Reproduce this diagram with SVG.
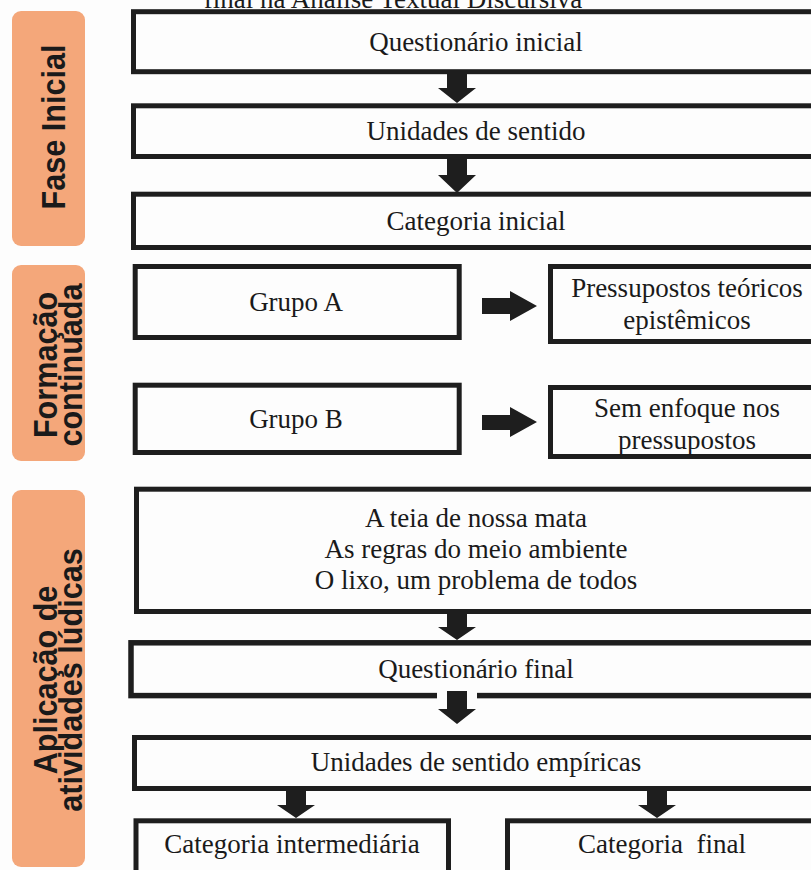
<svg xmlns="http://www.w3.org/2000/svg" width="811" height="870" viewBox="0 0 811 870">
<style>
.bg{fill:#fdfdfd}
.box{fill:#fdfdfd;stroke:#1e1e1e;stroke-width:5}
.lab{fill:#f4a77a}
.t{font-family:"Liberation Serif","Times New Roman",serif;font-size:27px;fill:#1a1a1a;text-anchor:middle}
.s{font-family:"Liberation Sans",Arial,sans-serif;font-weight:bold;font-size:34px;fill:#1a1a1a;text-anchor:middle}
.arr{fill:#1e1e1e}
</style>
<rect class="bg" x="0" y="0" width="811" height="870"/>
<text class="t" x="393" y="8">final na Análise Textual Discursiva</text>

<g id="lab-fase">
<rect class="lab" x="12" y="11" width="73" height="235" rx="9"/>
<text class="s" transform="translate(64.5,127) rotate(-90) scale(0.9,1)">Fase Inicial</text>
</g>
<g id="lab-formacao">
<rect class="lab" x="12" y="265" width="73" height="196" rx="9"/>
<text class="s" transform="translate(57,365) rotate(-90) scale(0.9,1)">Formação</text>
<text class="s" transform="translate(82,365) rotate(-90) scale(0.9,1)">continuada</text>
</g>
<g id="lab-aplicacao">
<rect class="lab" x="12" y="490" width="73" height="377" rx="9"/>
<text class="s" transform="translate(57,680) rotate(-90) scale(0.9,1)">Aplicação de</text>
<text class="s" transform="translate(82,680) rotate(-90) scale(0.9,1)">atividades lúdicas</text>
</g>

<g id="questionario-inicial">
<rect class="box" x="133.5" y="11.7" width="700" height="60"/>
<text class="t" x="476" y="51">Questionário inicial</text>
</g>
<g id="unidades-sentido">
<rect class="box" x="133.5" y="105.8" width="700" height="50.7"/>
<text class="t" x="476" y="139.5">Unidades de sentido</text>
</g>
<g id="categoria-inicial">
<rect class="box" x="133.5" y="194.2" width="700" height="53.3"/>
<text class="t" x="476" y="230">Categoria inicial</text>
</g>
<g id="grupo-a">
<rect class="box" x="135.2" y="266.5" width="324" height="71"/>
<text class="t" x="296" y="311">Grupo A</text>
</g>
<g id="grupo-b">
<rect class="box" x="135.2" y="385.2" width="324" height="67.3"/>
<text class="t" x="296" y="428">Grupo B</text>
</g>
<g id="pressupostos">
<rect class="box" x="550.5" y="266.5" width="300" height="75"/>
<text class="t" x="687" y="297">Pressupostos teóricos</text>
<text class="t" x="687" y="329">epistêmicos</text>
</g>
<g id="sem-enfoque">
<rect class="box" x="550.5" y="387.5" width="300" height="69"/>
<text class="t" x="687" y="417">Sem enfoque nos</text>
<text class="t" x="687" y="449">pressupostos</text>
</g>
<g id="atividades">
<rect class="box" x="136.5" y="489.2" width="700" height="122.3"/>
<text class="t" x="476" y="527">A teia de nossa mata</text>
<text class="t" x="476" y="558">As regras do meio ambiente</text>
<text class="t" x="476" y="589">O lixo, um problema de todos</text>
</g>
<g id="questionario-final">
<rect class="box" x="131" y="642.8" width="700" height="52.8" style="stroke-width:5.5"/>
<text class="t" x="476" y="677.5">Questionário final</text>
</g>
<g id="unidades-empiricas">
<rect class="box" x="134.5" y="737.5" width="700" height="51"/>
<text class="t" x="476" y="771">Unidades de sentido empíricas</text>
</g>
<g id="categoria-intermediaria">
<rect class="box" x="136" y="820.8" width="312.5" height="70"/>
<text class="t" x="292" y="853">Categoria intermediária</text>
</g>
<g id="categoria-final">
<rect class="box" x="507.5" y="820.8" width="330" height="70"/>
<text class="t" x="662" y="853" xml:space="preserve">Categoria  final</text>
</g>

<g id="connectors">
<polygon class="arr" points="447,74 467,74 467,88 476,88 457,103 438,88 447,88"/>
<polygon class="arr" points="447,159 467,159 467,175 476,175 457,193 438,175 447,175"/>
<polygon class="arr" points="482,298 510,298 510,291 537,306 510,321 510,314 482,314"/>
<polygon class="arr" points="482,415 510,415 510,407 537,422 510,437 510,430 482,430"/>
<polygon class="arr" points="447,614 467,614 467,627 476,627 457,640 438,627 447,627"/>
<rect x="437" y="690" width="40" height="9" fill="#fdfdfd"/>
<polygon class="arr" points="447,691 467,691 467,709 476,709 457,724 438,709 447,709"/>
<polygon class="arr" points="286,791 306,791 306,805 315,805 296,818 277,805 286,805"/>
<polygon class="arr" points="647,791 667,791 667,805 676,805 657,818 638,805 647,805"/>
</g>
</svg>
